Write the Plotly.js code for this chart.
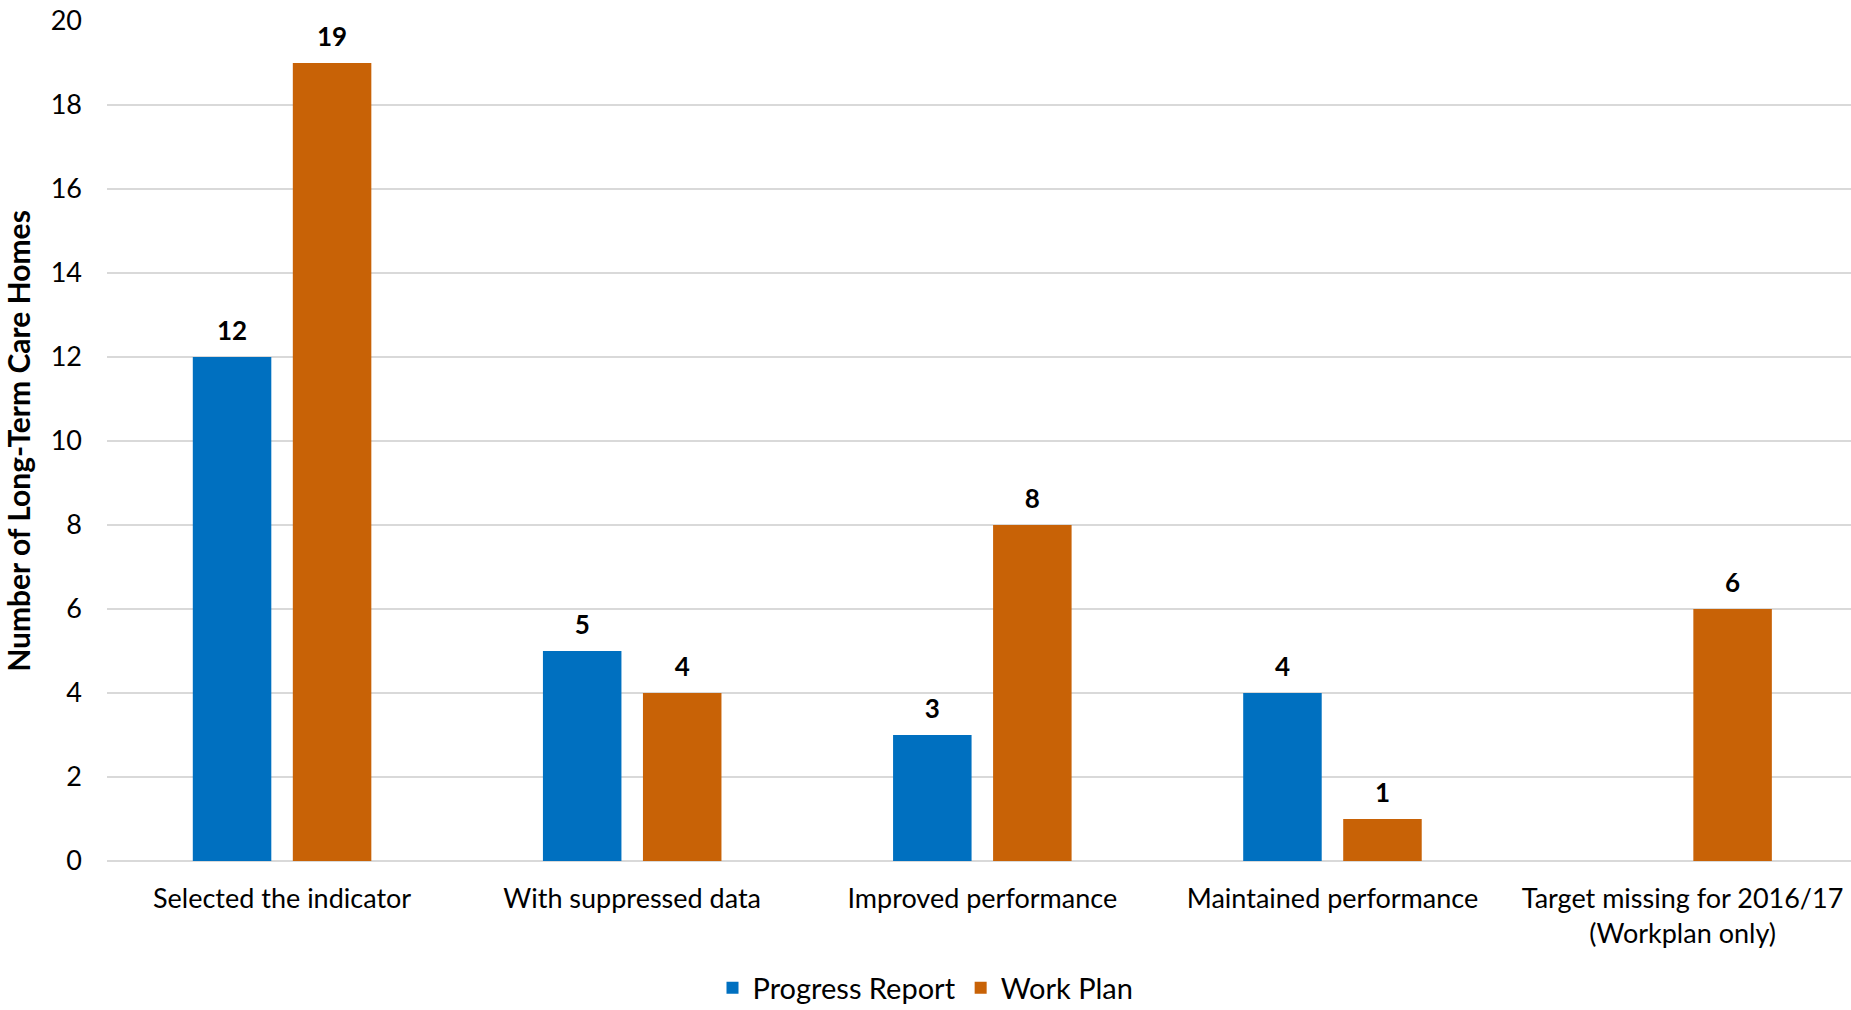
<!DOCTYPE html>
<html>
<head>
<meta charset="utf-8">
<script src="https://cdn.plot.ly/plotly-3.0.1.min.js"></script>
<style>
html,body{margin:0;padding:0;overflow:hidden;background:#fff;}
#chart{width:1851px;height:1010px;}
</style>
</head>
<body>
<div id="chart"></div>
<script>
var categories = [
  "Selected the indicator",
  "With suppressed data",
  "Improved performance",
  "Maintained performance",
  "Target missing for 2016/17<br>(Workplan only)"
];
var progressReport = [12, 5, 3, 4, null];
var workPlan = [19, 4, 8, 1, 6];
var seriesNames = ["Progress Report", "Work Plan"];
var yTicks = [0, 2, 4, 6, 8, 10, 12, 14, 16, 18, 20];
var yTitle = "Number of Long-Term Care Homes";

var BLUE = "#0070C0", ORANGE = "#C86206";
var FONT = "Lato, 'Open Sans', sans-serif";

function labels(arr){ return arr.map(function(v){ return v === null ? "" : String(v); }); }

var traces = [
  {type:"bar", name:seriesNames[0], x:categories, y:progressReport,
   marker:{color:BLUE}, hoverinfo:"skip"},
  {type:"bar", name:seriesNames[1], x:categories, y:workPlan,
   marker:{color:ORANGE}, hoverinfo:"skip"},
  {type:"scatter", mode:"markers+text", x:categories, y:progressReport,
   text:labels(progressReport), textposition:"top center",
   marker:{size:16, opacity:0}, showlegend:false, hoverinfo:"skip",
   textfont:{family:FONT, size:26, color:"#000", weight:"bold"}, cliponaxis:false},
  {type:"scatter", mode:"markers+text", x:categories, y:workPlan,
   text:labels(workPlan), textposition:"top center",
   marker:{size:16, opacity:0}, showlegend:false, hoverinfo:"skip",
   textfont:{family:FONT, size:26, color:"#000", weight:"bold"}, cliponaxis:false}
];

var layout = {
  width:1851, height:1010,
  margin:{l:107, r:0, t:21, b:149},
  paper_bgcolor:"#fff", plot_bgcolor:"#fff",
  font:{family:FONT, color:"#000"},
  barmode:"group", bargap:0.4287, bargroupgap:0.215,
  scattermode:"group",
  showlegend:true,
  legend:{orientation:"h", xref:"container", yref:"container", x:0.5, xanchor:"center",
          y:0.022, yanchor:"middle", font:{family:FONT, size:29, color:"#000"},
          traceorder:"normal", itemwidth:30},
  xaxis:{type:"category", range:[-0.5, 4.481], showgrid:false, zeroline:false,
         showline:false, ticks:"", tickfont:{family:FONT, size:27, color:"#000"},
         ticklabelstandoff:19, fixedrange:true},
  yaxis:{range:[0,20], tickvals:yTicks, ticktext:yTicks.map(String),
         showgrid:true, gridcolor:"#d9d9d9", gridwidth:2,
         zeroline:true, zerolinecolor:"#d9d9d9", zerolinewidth:2,
         showline:false, ticks:"", tickfont:{family:FONT, size:27, color:"#000"},
         ticklabelstandoff:24,
         title:{text:yTitle, font:{family:FONT, size:30, color:"#000", weight:"bold"}, standoff:14},
         fixedrange:true}
};

Plotly.newPlot("chart", traces, layout, {displayModeBar:false, staticPlot:true});
</script>
</body>
</html>
